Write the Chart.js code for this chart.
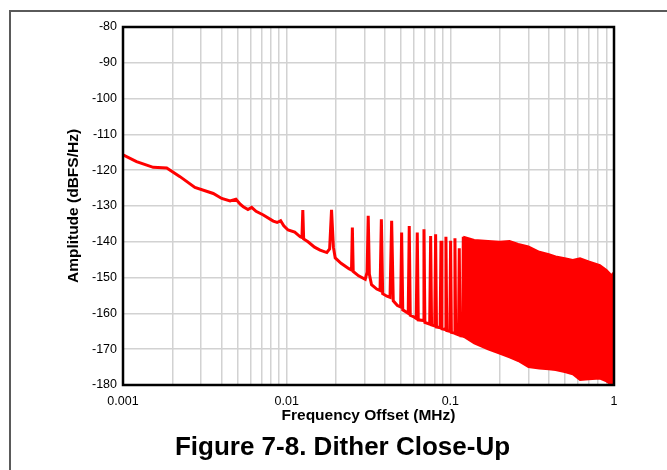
<!DOCTYPE html>
<html>
<head>
<meta charset="utf-8">
<title>Dither Close-Up</title>
<script src="https://cdn.jsdelivr.net/npm/chart.js@4.4.0/dist/chart.umd.min.js"></script>
<style>
    html, body {
        margin: 0;
        padding: 0;
        background: #fff;
        overflow: hidden;
    }
    #frame {
        position: absolute;
        left: 9px;
        top: 10px;
        width: 700px;
        height: 500px;
        border: 2px solid #5a5a5a;
    }
    #chartBox {
        position: absolute;
        left: 0;
        top: 0;
        width: 667px;
        height: 470px;
    }
    #caption {
        position: absolute;
        left: 9px;
        width: 667px;
        top: 431px;
        line-height: 30px;
        text-align: center;
        font: bold 26px "Liberation Sans", Arial, sans-serif;
        color: #000;
    }
</style>
</head>
<body>
<div id="frame"></div>
<div id="chartBox"><canvas id="ditherChart" width="667" height="470"></canvas></div>
<div id="caption">Figure 7-8. Dither Close-Up</div>

<script>
// Chart data
// Noise floor plus the spurs that can still be told apart
const traceFreq = [
    0.001, 0.00121, 0.00153, 0.00185, 0.00223, 0.00275, 0.00356, 0.00401, 0.00451, 0.0049,
    0.0052, 0.00543, 0.0058, 0.00611, 0.0065, 0.0072, 0.00828, 0.00875, 0.00919, 0.0096,
    0.0102, 0.0112, 0.0121,
    0.0124, 0.01255, 0.0127, 0.0135, 0.0148, 0.016, 0.0176,
    0.0183, 0.0188, 0.0193, 0.0198, 0.0215, 0.024,
    0.0249, 0.0252, 0.0255, 0.0275, 0.0302,
    0.031, 0.0315, 0.032, 0.033, 0.0355,
    0.0372, 0.0379, 0.0386, 0.041,
    0.0428, 0.0438, 0.0448, 0.0475,
    0.0497, 0.0504, 0.0512, 0.054,
    0.0553, 0.0561, 0.0569, 0.06,
    0.0619, 0.0628, 0.0637,
    0.0681, 0.069, 0.0699,
    0.0748, 0.0758, 0.0768,
    0.0803, 0.0813, 0.0823,
    0.0866, 0.0877, 0.0888,
    0.0929, 0.094, 0.0951,
    0.0993, 0.1004, 0.1015,
    0.1056, 0.1067, 0.1078,
    0.1122, 0.1134, 0.1146,
    0.119, 0.12
];
const traceAmp = [
    -115.7, -117.6, -119.2, -119.4, -121.8, -124.8, -126.5, -127.9, -128.6, -128.1,
    -129.5, -130.2, -131, -130.4, -131.5, -132.5, -134.2, -134.6, -134.1, -135.5,
    -136.7, -137.3, -138.6,
    -138.8, -131.1, -139.2, -140, -141.5, -142.3, -143,
    -142, -131.1, -141.5, -144.5, -146, -147.5,
    -147.9, -136, -148.3, -149.5, -150.5,
    -148.5, -132.7, -149, -152, -153.2,
    -153.6, -133.7, -154.5, -155.2,
    -155.5, -134.1, -156.5, -157.8,
    -158.2, -137.4, -159, -159.7,
    -160, -135.6, -160.5, -161,
    -161.4, -137.4, -161.8,
    -162, -136.5, -162.5,
    -163, -138.4, -163.2,
    -163.5, -137.9, -163.8,
    -164, -139.7, -164.3,
    -164.5, -138.6, -164.8,
    -165, -139.7, -165.3,
    -165.5, -139, -165.7,
    -166, -141.8, -166.2,
    -166.3, -138.6
];

// Dense spur region: upper and lower envelope
const bandFreq = [0.12, 0.14, 0.17, 0.2, 0.23, 0.26, 0.3, 0.35, 0.4, 0.44, 0.5, 0.56, 0.62, 0.7, 0.82, 0.9, 0.965, 1.0];
const bandTop = [-138.6, -139.5, -139.8, -140, -139.8, -140.6, -141.3, -142.8, -143.5, -144.1, -144.6, -145.1, -144.6, -145.5, -146.5, -147.9, -149.3, -148.5];
const bandBottom = [-166.4, -168.4, -170, -171.2, -172.3, -173.3, -175, -175.4, -175.6, -175.8, -176.4, -177, -178.6, -178.4, -178.2, -179, -180, -180];

// Axis ticks
const xLabelTicks = [0.001, 0.01, 0.1, 1];
const xTickText = ['0.001', '0.01', '0.1', '1'];
const xDecades = [0.001, 0.01, 0.1];
const xSteps = [1, 2, 3, 4, 5, 6, 7, 8, 9];

const RED = '#ff0000';
const FONT = '"Liberation Sans", Arial, sans-serif';

// Grid values at 1..9 of each decade
function buildXGrid() {
    const values = [];
    xDecades.forEach(d => {
        xSteps.forEach(s => values.push(parseFloat((d * s).toPrecision(3))));
    });
    values.push(1);
    return values;
}

function toPoints(xs, ys) {
    return xs.map((x, i) => ({ x: x, y: ys[i] }));
}

// Black frame round the plot area
const plotBorder = {
    id: 'plotBorder',
    afterDatasetsDraw(chart) {
        const a = chart.chartArea;
        const ctx = chart.ctx;
        ctx.save();
        ctx.strokeStyle = '#000';
        ctx.lineWidth = 2.5;
        ctx.strokeRect(a.left, a.top, a.right - a.left, a.bottom - a.top);
        ctx.restore();
    }
};

document.addEventListener('DOMContentLoaded', function() {
    const xGrid = buildXGrid();
    const ctx = document.getElementById('ditherChart').getContext('2d');

    new Chart(ctx, {
        type: 'line',
        data: {
            datasets: [
                {
                    label: 'trace',
                    data: toPoints(traceFreq, traceAmp),
                    borderColor: RED,
                    borderWidth: 3,
                    pointRadius: 0,
                    tension: 0,
                    fill: false
                },
                {
                    label: 'top',
                    data: toPoints(bandFreq, bandTop),
                    borderColor: RED,
                    backgroundColor: RED,
                    borderWidth: 2,
                    pointRadius: 0,
                    tension: 0,
                    fill: '+1'
                },
                {
                    label: 'bottom',
                    data: toPoints(bandFreq, bandBottom),
                    borderColor: RED,
                    borderWidth: 2,
                    pointRadius: 0,
                    tension: 0,
                    fill: false
                }
            ]
        },
        options: {
            responsive: false,
            animation: false,
            devicePixelRatio: 1,
            layout: {
                padding: { left: 0, right: 53, top: 27, bottom: 0 }
            },
            plugins: {
                legend: { display: false },
                tooltip: { enabled: false }
            },
            scales: {
                x: {
                    type: 'logarithmic',
                    min: 0.001,
                    max: 1,
                    afterFit: scale => { scale.height = 85; },
                    afterBuildTicks: scale => {
                        scale.ticks = xGrid.map(v => ({ value: v }));
                    },
                    grid: {
                        color: '#d2d2d2',
                        lineWidth: 1.5,
                        drawTicks: false
                    },
                    border: { display: false },
                    ticks: {
                        autoSkip: false,
                        maxRotation: 0,
                        padding: 9,
                        color: '#000',
                        font: { family: FONT, size: 12.5 },
                        callback: function(value) {
                            const i = xLabelTicks.indexOf(value);
                            return i >= 0 ? xTickText[i] : '';
                        }
                    },
                    title: {
                        display: true,
                        text: 'Frequency Offset (MHz)',
                        color: '#000',
                        font: { family: FONT, size: 15.5, weight: 'bold' },
                        padding: { top: 0, bottom: 45 }
                    }
                },
                y: {
                    min: -180,
                    max: -80,
                    afterFit: scale => { scale.width = 123; },
                    grid: {
                        color: '#d2d2d2',
                        lineWidth: 1.5,
                        drawTicks: false
                    },
                    border: { display: false },
                    ticks: {
                        stepSize: 5,
                        padding: 6,
                        color: '#000',
                        font: { family: FONT, size: 12.5 },
                        callback: value => (value % 10 === 0 ? String(value) : '')
                    },
                    title: {
                        display: true,
                        text: 'Amplitude (dBFS/Hz)',
                        color: '#000',
                        font: { family: FONT, size: 15.5, weight: 'bold' },
                        padding: { top: 64, bottom: 0 }
                    }
                }
            }
        },
        plugins: [plotBorder]
    });
});
</script>
</body>
</html>
